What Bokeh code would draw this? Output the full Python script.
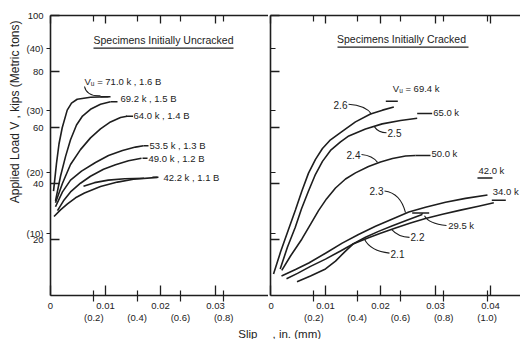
import math
from bokeh.plotting import figure
from bokeh.models import Range1d, LinearAxis, FixedTicker, Label, CustomJSTickFormatter, Title
from bokeh.layouts import row
from bokeh.embed import file_html
from bokeh.resources import INLINE

# ---------------------------------------------------------------- data
KIPS_PER_TONNE = 2.20462
MM_PER_IN = 25.4

kips_ticks = [20, 40, 60, 80, 100]
tonne_ticks = [10, 20, 30, 40]
inch_ticks_uncracked = [0, 0.01, 0.02, 0.03]
inch_ticks_cracked = [0, 0.01, 0.02, 0.03, 0.04]
mm_ticks_uncracked = [0.2, 0.4, 0.6, 0.8]
mm_ticks_cracked = [0.2, 0.4, 0.6, 0.8, 1.0]

# Specimens initially uncracked: slip (in.) vs applied load (kips)
unc_names = ["1.6 B", "1.5 B", "1.4 B", "1.3 B", "1.2 B", "1.1 B"]
unc_vu = [71.0, 69.2, 64.0, 53.5, 49.0, 42.2]

slip_16B = [0.00055, 0.00109, 0.00155, 0.00213, 0.00304, 0.00382, 0.00485, 0.00727, 0.01055]
load_16B = [37.3, 47.2, 54.2, 59.9, 66.2, 68.7, 70.1, 70.8, 71.0]
slip_15B = [0.00091, 0.00182, 0.00273, 0.00364, 0.00473, 0.00582, 0.00727, 0.00909, 0.01091]
load_15B = [33.8, 42.6, 49.6, 55.6, 60.9, 64.1, 66.5, 68.3, 69.2]
slip_14B = [0.00091, 0.00218, 0.00364, 0.00545, 0.00727, 0.00909, 0.01091, 0.01273, 0.01391]
load_14B = [33.1, 40.1, 46.8, 52.1, 56.3, 59.5, 62.0, 63.6, 64.0]
slip_13B = [0.00091, 0.00218, 0.00364, 0.00564, 0.00818, 0.01055, 0.01309, 0.01545, 0.01691]
load_13B = [31.7, 37.0, 41.2, 44.4, 47.5, 50.0, 51.8, 53.0, 53.5]
slip_12B = [0.00127, 0.00236, 0.00364, 0.00545, 0.00727, 0.00964, 0.01182, 0.01418, 0.01655]
load_12B = [30.3, 33.8, 37.0, 40.1, 42.6, 45.1, 46.7, 48.1, 49.0]
slip_11B = [0.00064, 0.00182, 0.00309, 0.00455, 0.00618, 0.00909, 0.01218, 0.01509, 0.01945]
load_11B = [28.2, 30.6, 32.7, 34.9, 36.6, 38.9, 40.5, 41.5, 42.2]
slip_11B_branch = [0.0060, 0.0080, 0.0105, 0.0135, 0.0170]
load_11B_branch = [39.0, 40.3, 41.2, 41.7, 41.9]

# Specimens initially cracked
crk_names = ["2.6", "2.5", "2.4", "2.3", "2.2", "2.1"]
crk_vu = [69.4, 65.0, 50.0, 42.0, 34.0, 29.5]

slip_26 = [0.00055, 0.00182, 0.00327, 0.00455, 0.00569, 0.00691, 0.00818, 0.00945, 0.01091, 0.01304, 0.01545, 0.01818, 0.02036, 0.02242]
load_26 = [7.7, 15.5, 23.6, 30.6, 37.2, 43.7, 48.6, 52.5, 55.6, 58.6, 62.0, 64.8, 66.2, 67.3]
slip_25 = [0.00176, 0.00309, 0.00449, 0.00564, 0.00691, 0.00818, 0.00945, 0.01091, 0.01273, 0.01424, 0.01727, 0.02031, 0.02364, 0.02667]
load_25 = [9.5, 17.3, 24.3, 31.0, 37.3, 43.3, 47.9, 51.8, 54.9, 57.0, 59.5, 61.3, 62.5, 63.3]
slip_24 = [0.00205, 0.00364, 0.00569, 0.00727, 0.00873, 0.01018, 0.01182, 0.01364, 0.01545, 0.01782, 0.02, 0.02218, 0.02455, 0.02636]
load_24 = [9.0, 14.1, 20.1, 25.4, 30.3, 34.5, 38.4, 41.6, 43.8, 46.1, 47.7, 48.9, 49.8, 50.0]
slip_23 = [0.002, 0.00455, 0.00696, 0.01, 0.01304, 0.016, 0.01909, 0.02218, 0.02515, 0.02818, 0.03182, 0.03545, 0.03945]
load_23 = [7.0, 9.3, 11.6, 15.1, 18.7, 21.8, 24.7, 27.3, 29.8, 31.5, 33.3, 34.7, 35.9]
slip_22 = [0.00291, 0.00491, 0.00727, 0.01, 0.01273, 0.01509, 0.01782, 0.02, 0.02273, 0.02545, 0.02818, 0.03127, 0.03455, 0.03782, 0.0406]
load_22 = [6.0, 7.9, 10.4, 13.0, 15.9, 18.5, 20.6, 22.2, 24.1, 25.9, 27.5, 29.0, 30.5, 31.9, 33.1]
slip_21 = [0.00482, 0.00727, 0.01, 0.01182, 0.01345, 0.01509, 0.01727, 0.01964, 0.02218, 0.02491, 0.02758]
load_21 = [4.9, 7.0, 9.5, 12.3, 15.5, 18.5, 20.8, 22.9, 24.9, 27.0, 28.9]

# ---------------------------------------------------------------- layout / style
PX_PER_IN = 5500.0      # 55 px per 0.01 in
PX_PER_KIP = 2.84
FIG_H = 339
BORDER_TOP = 15
BORDER_BOTTOM = 40
LEFT_W, LEFT_BORDER = 268, 50
RIGHT_W, RIGHT_BORDER = 252, 2
ORIGIN1 = LEFT_BORDER
ORIGIN2 = LEFT_W + RIGHT_BORDER
BASE_Y = BORDER_TOP + 100 * PX_PER_KIP

INK = "#1e1e1e"
TXT = "#222222"
FONT = "Liberation Sans"


def px_x(px, origin):
    return (px - origin) / PX_PER_IN


def px_y(py):
    return (BASE_Y - py) / PX_PER_KIP


def dpx(px):
    return px / PX_PER_IN


def make_panel(width, border_left, frame_w):
    p = figure(width=width, height=FIG_H,
               x_range=Range1d(0, frame_w / PX_PER_IN), y_range=Range1d(0, 100),
               output_backend="svg", toolbar_location=None,
               x_axis_location=None, y_axis_location=None,
               min_border_left=border_left, min_border_right=0,
               min_border_top=BORDER_TOP, min_border_bottom=BORDER_BOTTOM)
    p.outline_line_color = None
    p.xgrid.visible = False
    p.ygrid.visible = False
    p.background_fill_color = "white"
    p.border_fill_color = "white"
    return p


def style_axis(ax):
    ax.axis_line_color = INK
    ax.axis_line_width = 1.6
    ax.major_tick_line_color = INK
    ax.major_tick_line_width = 1.3
    ax.minor_tick_line_color = INK
    ax.minor_tick_line_width = 1.2
    ax.major_label_text_font = FONT
    ax.major_label_text_font_size = "9.5px"
    ax.major_label_text_color = TXT


def blank():
    return CustomJSTickFormatter(code="return '';")


LOAD_FMT_JS = """
const r = Math.round(tick);
if (Math.abs(tick - r) < 1e-6 && (r / 20) == Math.round(r / 20)) { return String(r); }
return '(' + Math.round(tick / KPT) + ')';
""".replace("KPT", repr(KIPS_PER_TONNE))


def add_axes(p, inch_ticks, mm_ticks, show_y_labels):
    mm_in = [m / MM_PER_IN for m in mm_ticks]
    tonne_kips = [t * KIPS_PER_TONNE for t in tonne_ticks]

    # kips ticks pointing into the panel
    ly = LinearAxis(ticker=FixedTicker(ticks=kips_ticks,
                                       minor_ticks=[] if show_y_labels else tonne_kips),
                    formatter=blank())
    style_axis(ly)
    ly.major_tick_in, ly.major_tick_out = 9, 0
    ly.minor_tick_in, ly.minor_tick_out = 5, 0
    ly.major_label_standoff = 0
    p.add_layout(ly, "left")

    if show_y_labels:
        # kips labels and metric-ton labels in one column
        lb = LinearAxis(ticker=FixedTicker(ticks=kips_ticks + tonne_kips, minor_ticks=tonne_kips),
                        formatter=CustomJSTickFormatter(code=LOAD_FMT_JS))
        style_axis(lb)
        lb.axis_line_color = None
        lb.major_tick_in, lb.major_tick_out = 0, 0
        lb.minor_tick_in, lb.minor_tick_out = 0, 4
        lb.major_label_standoff = 3
        p.add_layout(lb, "left")

    bx = LinearAxis(ticker=FixedTicker(ticks=inch_ticks, minor_ticks=mm_in),
                    formatter=CustomJSTickFormatter(code="return tick == 0 ? '0' : tick.toFixed(2);"))
    style_axis(bx)
    bx.major_tick_in, bx.major_tick_out = 10, 0
    bx.minor_tick_in, bx.minor_tick_out = 5, 6
    bx.major_label_standoff = 1
    p.add_layout(bx, "below")

    mx = LinearAxis(ticker=FixedTicker(ticks=mm_in),
                    formatter=CustomJSTickFormatter(code="return '(' + (tick * 25.4).toFixed(1) + ')';"))
    style_axis(mx)
    mx.axis_line_color = None
    mx.major_tick_in, mx.major_tick_out = 0, 0
    mx.major_label_standoff = 0
    p.add_layout(mx, "below")

    tx = LinearAxis(ticker=FixedTicker(ticks=inch_ticks, minor_ticks=mm_in), formatter=blank())
    style_axis(tx)
    tx.major_tick_in, tx.major_tick_out = 8, 0
    tx.minor_tick_in, tx.minor_tick_out = 6, 0
    tx.major_label_standoff = 0
    p.add_layout(tx, "above")


def text(p, x, y, s, size="9.5px", align="left", baseline="middle", xo=0, yo=0):
    p.add_layout(Label(x=x, y=y, text=s, x_offset=xo, y_offset=yo,
                       text_font=FONT, text_font_size=size, text_color=TXT,
                       text_align=align, text_baseline=baseline))


def side_title(s, align, offset, size, standoff):
    return Title(text=s, align=align, offset=offset, standoff=standoff,
                 text_font=FONT, text_font_size=size, text_font_style="normal",
                 text_color=TXT)


# ---------------------------------------------------------------- left panel
p1 = make_panel(LEFT_W, LEFT_BORDER, LEFT_W - LEFT_BORDER)
add_axes(p1, inch_ticks_uncracked, mm_ticks_uncracked, True)

unc_slips = [slip_16B, slip_15B, slip_14B, slip_13B, slip_12B, slip_11B]
unc_loads = [load_16B, load_15B, load_14B, load_13B, load_12B, load_11B]
for s, l in zip(unc_slips, unc_loads):
    p1.line(s, l, line_color=INK, line_width=1.6)
p1.line(slip_11B_branch, load_11B_branch, line_color=INK, line_width=1.6)

unc_mark = [(-8, 2), (0, 7), (-1, 6), (0, 5), (1, 6), (-5, 1)]
unc_txt = [(-24, 15), (10, 3), (6.5, 1), (6, 0), (7, 0), (6, 0)]
for i, (s, vu, name) in enumerate(zip(unc_slips, unc_vu, unc_names)):
    xe = s[-1]
    p1.segment(x0=[xe + dpx(unc_mark[i][0])], y0=[vu], x1=[xe + dpx(unc_mark[i][1])], y1=[vu],
               line_color=INK, line_width=1.5)
    lab = "%.1f k , %s" % (vu, name)
    if i == 0:
        lab = "V\u1d64 = " + lab
    text(p1, xe, vu, lab, xo=unc_txt[i][0], yo=unc_txt[i][1])

p1.quadratic(x0=[px_x(84, ORIGIN1)], y0=[px_y(87)], x1=[px_x(100, ORIGIN1)], y1=[px_y(96.5)],
             cx=[px_x(86, ORIGIN1)], cy=[px_y(97)], line_color=INK, line_width=1.1)

text(p1, px_x(163, ORIGIN1), px_y(40), "Specimens Initially Uncracked", size="10.5px", align="center")
p1.segment(x0=[px_x(93, ORIGIN1)], y0=[px_y(48)], x1=[px_x(233, ORIGIN1)], y1=[px_y(48)],
           line_color=INK, line_width=1.3)

p1.add_layout(side_title("Applied Load V , kips (Metric tons)", "right", 5, "12px", 3), "left")
p1.add_layout(side_title("Slip", "right", 11, "11.5px", 0), "below")

# ---------------------------------------------------------------- right panel
p2 = make_panel(RIGHT_W, RIGHT_BORDER, RIGHT_W - RIGHT_BORDER)
add_axes(p2, inch_ticks_cracked, mm_ticks_cracked, False)

crk_slips = [slip_26, slip_25, slip_24, slip_23, slip_22, slip_21]
crk_loads = [load_26, load_25, load_24, load_23, load_22, load_21]
for s, l in zip(crk_slips, crk_loads):
    p2.line(s, l, line_color=INK, line_width=1.6)

crk_mark = [(-8, 4), (0, 15), (0, 15), (-10, 5), (-2, 12), (-10, 7)]
crk_txt = [(-1, 13), (16, 1.4), (16, 2), (-9, 7), (-1, 9), (26, -13)]
for i, (s, l, vu) in enumerate(zip(crk_slips, crk_loads, crk_vu)):
    xe = s[-1]
    p2.segment(x0=[xe + dpx(crk_mark[i][0])], y0=[vu], x1=[xe + dpx(crk_mark[i][1])], y1=[vu],
               line_color=INK, line_width=1.5)
    lab = "%.1f k" % vu
    if i == 0:
        lab = "V\u1d64 = " + lab
    text(p2, xe, vu, lab, xo=crk_txt[i][0], yo=crk_txt[i][1])
p2.segment(x0=[slip_21[-1]], y0=[crk_vu[5]], x1=[slip_21[-1]], y1=[load_21[-1]],
           line_color=INK, line_width=1.3)

name_pos = [(340, 106), (394, 134), (353, 156), (376, 193), (417, 240), (397, 257)]
for name, (x, y) in zip(crk_names, name_pos):
    text(p2, px_x(x, ORIGIN2), px_y(y), name, size="10px", align="center")

leaders = [
    (348, 105, 365, 106, 371, 115),
    (386, 134, 378, 134, 374, 128),
    (361, 156, 372, 157, 377, 164),
    (384, 193, 400, 195, 405, 215),
    (409, 240, 398, 240, 391, 232),
    (389, 256, 370, 254, 364, 242),
    (446, 228, 428, 226, 424, 218),
]
p2.quadratic(x0=[px_x(a[0], ORIGIN2) for a in leaders], y0=[px_y(a[1]) for a in leaders],
             cx=[px_x(a[2], ORIGIN2) for a in leaders], cy=[px_y(a[3]) for a in leaders],
             x1=[px_x(a[4], ORIGIN2) for a in leaders], y1=[px_y(a[5]) for a in leaders],
             line_color=INK, line_width=1.1)

text(p2, px_x(401, ORIGIN2), px_y(39), "Specimens Initially Cracked", size="10.5px", align="center")
p2.segment(x0=[px_x(337, ORIGIN2)], y0=[px_y(47)], x1=[px_x(468, ORIGIN2)], y1=[px_y(47)],
           line_color=INK, line_width=1.3)

p2.add_layout(side_title(", in. (mm)", "left", 2, "11.5px", 0), "below")

layout = row(p1, p2, spacing=0)
open("out.html", "w").write(file_html(layout, INLINE))
